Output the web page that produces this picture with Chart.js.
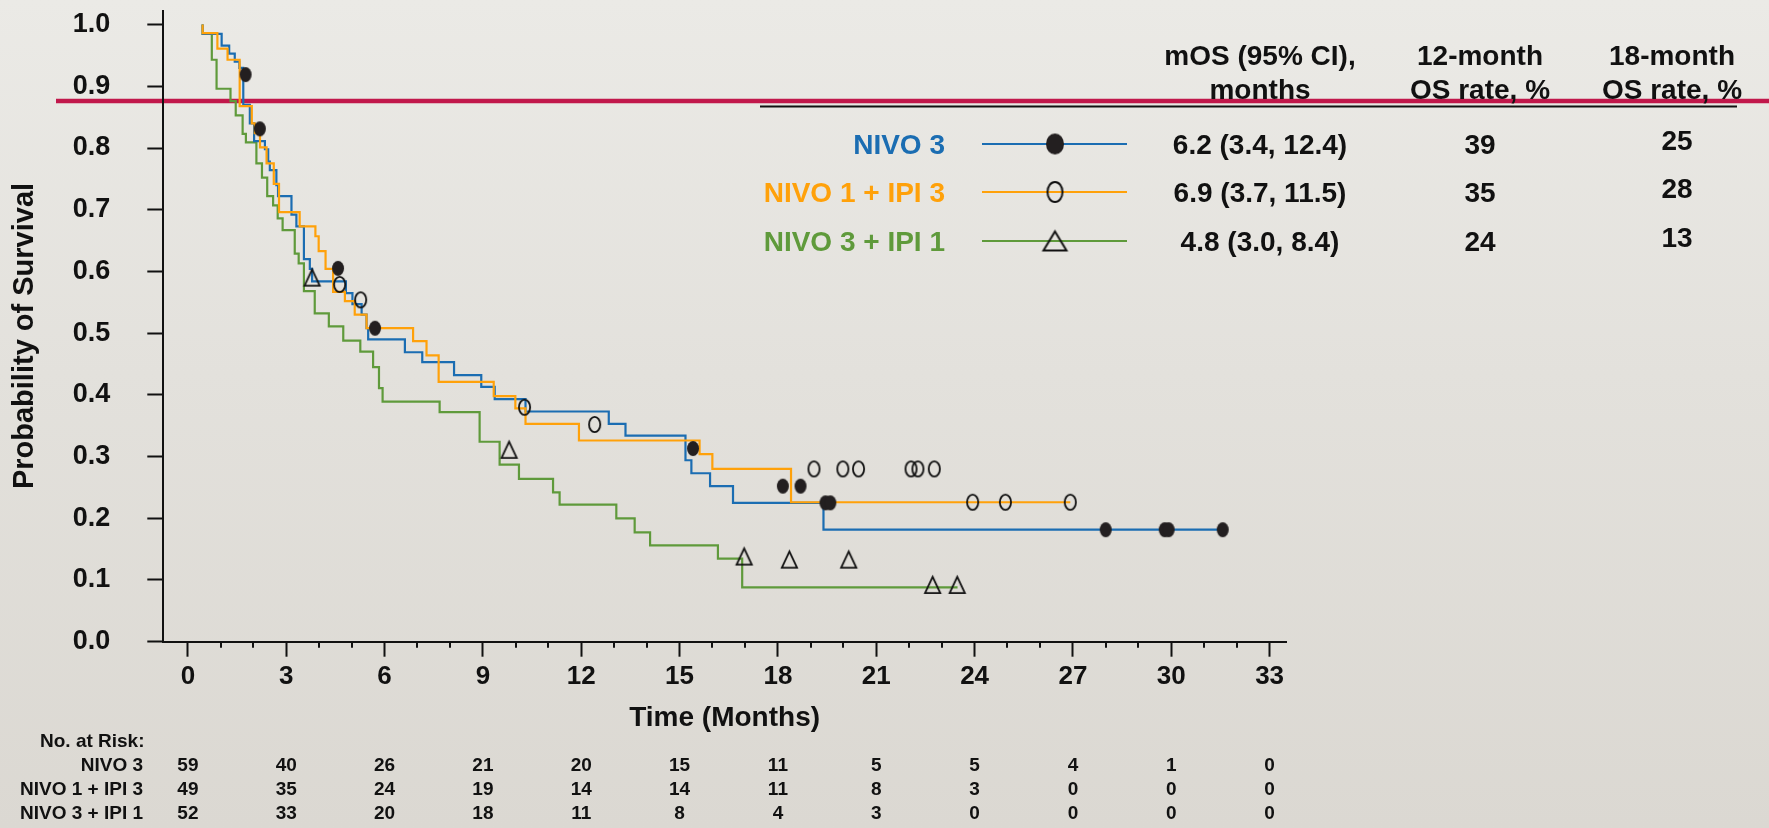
<!DOCTYPE html>
<html>
<head>
<meta charset="utf-8">
<title>Overall survival</title>
<script src="https://cdn.jsdelivr.net/npm/chart.js@4.4.1/dist/chart.umd.min.js"></script>
<style>
  html, body { margin: 0; padding: 0; width: 1769px; height: 828px; overflow: hidden;
    background: linear-gradient(to bottom, #ebeae6 0%, #e3e1dc 45%, #dbd8d2 100%); }
  canvas { display: block; }
</style>
</head>
<body>
<canvas id="km" width="1769" height="828"></canvas>
<script>
// ---- data -------------------------------------------------------------
const seriesNames = ['NIVO 3', 'NIVO 1 + IPI 3', 'NIVO 3 + IPI 1'];
const xTickValues = [0, 3, 6, 9, 12, 15, 18, 21, 24, 27, 30, 33];
const yTickValues = [0, 0.1, 0.2, 0.3, 0.4, 0.5, 0.6, 0.7, 0.8, 0.9, 1.0];

// Kaplan-Meier steps: [month, survival after the event]
const nivo3Steps = [[0.45,1.0],[1.03,0.985],[1.26,0.966],[1.43,0.953],[1.57,0.94],[1.69,0.93],[1.89,0.87],
  [2.02,0.84],[2.35,0.811],[2.45,0.798],[2.5,0.778],[2.7,0.764],[2.75,0.74],[3.16,0.722],[3.31,0.692],
  [3.54,0.673],[3.72,0.62],[3.79,0.604],[4.82,0.584],[5.02,0.565],[5.3,0.547],[5.45,0.53],[5.5,0.508],
  [6.62,0.49],[7.15,0.469],[8.12,0.453],[8.95,0.432],[9.36,0.413],[10.3,0.393],[12.84,0.373],[13.35,0.353],
  [15.18,0.334],[15.36,0.294],[15.93,0.273],[16.63,0.252],[19.39,0.225],[25.5,0.1815],[31.57,0.1815]];
const nivo1Ipi3Steps = [[0.45,1.0],[0.9,0.986],[1.21,0.961],[1.58,0.943],[1.95,0.868],[2.04,0.84],[2.2,0.824],
  [2.4,0.801],[2.62,0.775],[2.78,0.742],[3.41,0.696],[3.89,0.673],[3.99,0.657],[4.2,0.633],[4.43,0.604],
  [4.79,0.567],[5.09,0.552],[5.45,0.53],[6.87,0.508],[7.28,0.487],[7.65,0.464],[9.33,0.421],[9.99,0.398],
  [10.3,0.378],[11.93,0.353],[15.61,0.326],[16.0,0.304],[18.4,0.28],[23.89,0.226],[26.92,0.226]];
const nivo3Ipi1Steps = [[0.45,1.0],[0.73,0.985],[0.875,0.943],[1.3,0.896],[1.46,0.876],[1.67,0.853],[1.77,0.823],
  [2.09,0.809],[2.26,0.775],[2.42,0.752],[2.6,0.722],[2.74,0.707],[2.89,0.686],[3.26,0.667],[3.38,0.629],
  [3.54,0.613],[3.87,0.568],[4.3,0.532],[4.74,0.511],[5.26,0.488],[5.65,0.47],[5.83,0.445],[5.94,0.411],
  [7.68,0.389],[8.9,0.372],[9.51,0.324],[10.1,0.287],[11.14,0.264],[11.34,0.242],[13.07,0.222],[13.63,0.2],
  [14.1,0.177],[16.17,0.156],[16.91,0.1345],[22.08,0.088],[23.48,0.088]];

// censored observations
const nivo3Censored = [[1.76,0.919],[2.195,0.831],[4.58,0.605],[5.71,0.508],[15.41,0.313],[18.15,0.252],
  [18.69,0.252],[19.45,0.225],[19.6,0.225],[28.0,0.1815],[29.8,0.1815],[29.92,0.1815],[31.57,0.1815]];
const nivo1Ipi3Censored = [[4.63,0.579],[5.27,0.554],[10.27,0.38],[12.41,0.352],[19.1,0.28],[19.98,0.28],
  [20.46,0.28],[22.06,0.28],[22.27,0.28],[22.77,0.28],[23.94,0.226],[24.94,0.226],[26.92,0.226]];
const nivo3Ipi1Censored = [[3.79,0.59],[9.8,0.311],[16.97,0.138],[18.35,0.133],[20.16,0.133],[22.72,0.092],[23.47,0.092]];

// summary table
const tableHeaders = [['mOS (95% CI),', 'months'], ['12-month', 'OS rate, %'], ['18-month', 'OS rate, %']];
const medianOS = ['6.2 (3.4, 12.4)', '6.9 (3.7, 11.5)', '4.8 (3.0, 8.4)'];
const osRate12 = ['39', '35', '24'];
const osRate18 = ['25', '28', '13'];

// number at risk at each labelled month
const atRiskNivo3 = [59, 40, 26, 21, 20, 15, 11, 5, 5, 4, 1, 0];
const atRiskNivo1Ipi3 = [49, 35, 24, 19, 14, 14, 11, 8, 3, 0, 0, 0];
const atRiskNivo3Ipi1 = [52, 33, 20, 18, 11, 8, 4, 3, 0, 0, 0, 0];

// ---- styling -------------------------------------------------------------
const FONT = '"Liberation Sans", Arial, Helvetica, sans-serif';
const COLORS = ['#1b6db2', '#ffa10a', '#5f9a3b'];
const INK = '#111111';

function toPoints(pairs) { return pairs.map(p => ({ x: p[0], y: p[1] })); }

function makeMarker(kind, w, h, lw) {
  const c = document.createElement('canvas');
  c.width = Math.ceil(w + 4); c.height = Math.ceil(h + 4);
  const g = c.getContext('2d');
  const cx = c.width / 2, cy = c.height / 2;
  g.lineWidth = lw;
  g.strokeStyle = INK;
  g.beginPath();
  if (kind === 'triangle') {
    g.moveTo(cx, cy - h / 2 + lw / 2);
    g.lineTo(cx + w / 2 - lw / 2, cy + h / 2 - lw / 2);
    g.lineTo(cx - w / 2 + lw / 2, cy + h / 2 - lw / 2);
    g.closePath();
    g.stroke();
  } else if (kind === 'dot') {
    g.ellipse(cx, cy, w / 2, h / 2, 0, 0, Math.PI * 2);
    g.fillStyle = '#231f20';
    g.fill();
  } else {
    g.ellipse(cx, cy, w / 2 - lw / 2, h / 2 - lw / 2, 0, 0, Math.PI * 2);
    g.stroke();
  }
  return c;
}

const plotMarkers = [makeMarker('dot', 12, 15, 0), makeMarker('ring', 13, 17, 1.8), makeMarker('triangle', 17, 18, 1.8)];
const keyMarkers = [makeMarker('dot', 18, 21, 0), makeMarker('ring', 17, 22, 2), makeMarker('triangle', 25, 21, 2)];

const stepSeries = [nivo3Steps, nivo1Ipi3Steps, nivo3Ipi1Steps];
const censorSeries = [nivo3Censored, nivo1Ipi3Censored, nivo3Ipi1Censored];
const atRiskRows = [atRiskNivo3, atRiskNivo1Ipi3, atRiskNivo3Ipi1];
const lineOrder = [2, 1, 3]; // orange drawn above blue, blue above green

const datasets = [];
censorSeries.forEach((pts, i) => datasets.push({
  label: seriesNames[i] + ' censored', data: toPoints(pts), showLine: false,
  pointStyle: plotMarkers[i], pointRadius: 7, pointHoverRadius: 7, order: 0
}));
stepSeries.forEach((pts, i) => datasets.push({
  label: seriesNames[i], data: toPoints(pts), showLine: true, stepped: 'after',
  borderColor: COLORS[i], borderWidth: 2.2, pointRadius: 0, fill: false, order: lineOrder[i]
}));

// ---- extra drawing: decoration, minor ticks, titles, key table, risk table
const decor = {
  id: 'decor',
  beforeDraw(chart) {
    const ctx = chart.ctx;
    ctx.save();
    ctx.strokeStyle = '#c1184b';
    ctx.lineWidth = 4.5;
    ctx.beginPath(); ctx.moveTo(56, 101); ctx.lineTo(chart.width, 101); ctx.stroke();
    ctx.restore();
  },
  afterDraw(chart) {
    const ctx = chart.ctx;
    const xs = chart.scales.x;
    const area = chart.chartArea;
    ctx.save();

    // minor month ticks
    ctx.strokeStyle = INK; ctx.lineWidth = 2;
    for (let m = 0; m <= 33; m++) {
      if (m % 3 === 0) continue;
      const px = Math.round(xs.getPixelForValue(m));
      ctx.beginPath(); ctx.moveTo(px, area.bottom); ctx.lineTo(px, area.bottom + 6); ctx.stroke();
    }

    // axis titles
    ctx.fillStyle = INK;
    ctx.font = 'bold 28px ' + FONT;
    ctx.textAlign = 'center'; ctx.textBaseline = 'alphabetic';
    ctx.fillText('Time (Months)', (area.left + area.right) / 2, 726);
    ctx.save();
    ctx.translate(25, 336); ctx.rotate(-Math.PI / 2);
    ctx.font = 'bold 29px ' + FONT; ctx.textBaseline = 'middle';
    ctx.fillText('Probability of Survival', 0, 0);
    ctx.restore();

    // summary table header
    const colX = [1260, 1480, 1672];
    ctx.font = 'bold 28px ' + FONT; ctx.textBaseline = 'alphabetic'; ctx.textAlign = 'center';
    tableHeaders.forEach((h, i) => {
      ctx.fillText(h[0], colX[i], 65);
      ctx.fillText(h[1], colX[i], 99);
    });
    ctx.strokeStyle = INK; ctx.lineWidth = 2.2;
    ctx.beginPath(); ctx.moveTo(760, 106.5); ctx.lineTo(1737, 106.5); ctx.stroke();

    // key rows
    const rowMid = [144, 192, 241];
    seriesNames.forEach((name, i) => {
      const y = rowMid[i];
      ctx.font = 'bold 28px ' + FONT;
      ctx.textAlign = 'right'; ctx.textBaseline = 'alphabetic';
      ctx.fillStyle = COLORS[i];
      ctx.fillText(name, 945, y + 10);
      ctx.strokeStyle = COLORS[i]; ctx.lineWidth = 2;
      ctx.beginPath(); ctx.moveTo(982, y); ctx.lineTo(1127, y); ctx.stroke();
      const mk = keyMarkers[i];
      ctx.drawImage(mk, 1055 - mk.width / 2, y - mk.height / 2);
      ctx.fillStyle = INK; ctx.textAlign = 'center';
      ctx.fillText(medianOS[i], colX[0], y + 10);
      ctx.fillText(osRate12[i], colX[1], y + 10);
      ctx.fillText(osRate18[i], colX[2] + 5, y + 6);
    });

    // number at risk
    ctx.font = 'bold 19px ' + FONT; ctx.fillStyle = INK;
    ctx.textAlign = 'left';
    ctx.fillText('No. at Risk:', 40, 747);
    const riskBase = [771, 795, 819];
    atRiskRows.forEach((row, r) => {
      ctx.textAlign = 'right';
      ctx.fillText(seriesNames[r], 143, riskBase[r]);
      ctx.textAlign = 'center';
      row.forEach((n, i) => ctx.fillText(String(n), xs.getPixelForValue(xTickValues[i]), riskBase[r]));
    });
    ctx.restore();
  }
};

new Chart(document.getElementById('km'), {
  type: 'scatter',
  data: { datasets },
  plugins: [decor],
  options: {
    responsive: false, animation: false, devicePixelRatio: 1,
    layout: { autoPadding: false, padding: { left: 0, right: 483, top: 11, bottom: 0 } },
    plugins: { legend: { display: false }, tooltip: { enabled: false } },
    scales: {
      x: {
        type: 'linear', min: -0.75, max: 33.5,
        afterBuildTicks: s => { s.ticks = xTickValues.map(v => ({ value: v })); },
        afterFit: s => { s.height = 828 - 641.7; s.paddingLeft = 0; s.paddingRight = 0; },
        grid: { drawOnChartArea: false, drawTicks: true, tickLength: 15, tickWidth: 2, tickColor: INK },
        border: { display: true, color: INK, width: 2 },
        ticks: { color: INK, padding: 5, font: { family: FONT, size: 26, weight: 'bold' }, maxRotation: 0, autoSkip: false }
      },
      y: {
        type: 'linear', min: 0, max: 1.022,
        afterBuildTicks: s => { s.ticks = yTickValues.map(v => ({ value: v })); },
        afterFit: s => { s.width = 163.3; s.paddingTop = 0; s.paddingBottom = 0; },
        grid: { drawOnChartArea: false, drawTicks: true, tickLength: 16, tickWidth: 2, tickColor: INK },
        border: { display: true, color: INK, width: 2 },
        ticks: { color: INK, padding: 37, font: { family: FONT, size: 27, weight: 'bold' },
          callback: v => Number(v).toFixed(1) }
      }
    }
  }
});
</script>
</body>
</html>
